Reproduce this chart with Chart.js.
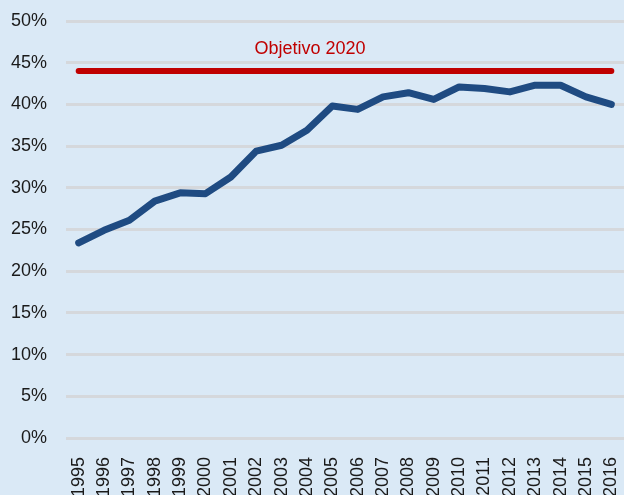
<!DOCTYPE html>
<html>
<head>
<meta charset="utf-8">
<script src="https://cdn.jsdelivr.net/npm/chart.js@4/dist/chart.umd.min.js"></script>
<style>
  html, body { margin: 0; padding: 0; overflow: hidden; background: #dae9f6; }
  #wrap { width: 624px; height: 502px; }
</style>
</head>
<body>
<div id="wrap"><canvas id="chart"></canvas></div>
<script>
const years = ['1995','1996','1997','1998','1999','2000','2001','2002','2003','2004','2005',
  '2006','2007','2008','2009','2010','2011','2012','2013','2014','2015','2016'];
const shareValues = [23.4, 24.9, 26.1, 28.4, 29.4, 29.3, 31.3, 34.4, 35.1, 36.9, 39.8,
  39.4, 40.9, 41.4, 40.6, 42.1, 41.9, 41.5, 42.3, 42.3, 40.9, 40.0];
const targetValue = 44;
const targetValues = years.map(() => targetValue);
const targetLabel = 'Objetivo 2020';

// label above the red target line
const targetText = {
  id: 'targetText',
  afterDatasetsDraw(chart) {
    const { ctx, scales } = chart;
    const y = scales.y.getPixelForValue(targetValue);
    ctx.save();
    ctx.fillStyle = '#c00000';
    ctx.font = '18px "Liberation Sans", Arial, sans-serif';
    ctx.textAlign = 'center';
    ctx.textBaseline = 'bottom';
    ctx.fillText(targetLabel, 310, y - 13);
    ctx.restore();
  }
};

new Chart(document.getElementById('chart'), {
  type: 'line',
  data: {
    labels: years,
    datasets: [
      {
        label: targetLabel,
        data: targetValues,
        borderColor: '#c00000',
        borderWidth: 6,
        borderCapStyle: 'round',
        pointRadius: 0,
        tension: 0
      },
      {
        label: 'Share',
        data: shareValues,
        borderColor: '#1f4b82',
        borderWidth: 7,
        borderCapStyle: 'round',
        borderJoinStyle: 'round',
        pointRadius: 0,
        tension: 0
      }
    ]
  },
  options: {
    responsive: true,
    maintainAspectRatio: false,
    animation: false,
    layout: { padding: { left: 9, top: 21, right: 0, bottom: 0 } },
    plugins: {
      legend: { display: false },
      tooltip: { enabled: false }
    },
    scales: {
      x: {
        offset: true,
        grid: { display: false },
        border: { display: false },
        afterFit: s => { s.height = 64; s.paddingLeft = 0; s.paddingRight = 0; },
        ticks: {
          color: '#1a1a1a',
          font: { family: '"Liberation Sans", Arial, sans-serif', size: 18 },
          maxRotation: 90,
          minRotation: 90,
          autoSkip: false,
          padding: 11
        }
      },
      y: {
        min: 0,
        max: 50,
        grid: { color: '#d5d8dc', lineWidth: 3, drawTicks: false },
        border: { display: false },
        afterFit: s => { s.width = 57; s.paddingTop = 0; s.paddingBottom = 0; },
        ticks: {
          stepSize: 5,
          color: '#1a1a1a',
          padding: 19,
          font: { family: '"Liberation Sans", Arial, sans-serif', size: 18 },
          callback: v => v + '%'
        }
      }
    }
  },
  plugins: [targetText]
});
</script>
</body>
</html>
